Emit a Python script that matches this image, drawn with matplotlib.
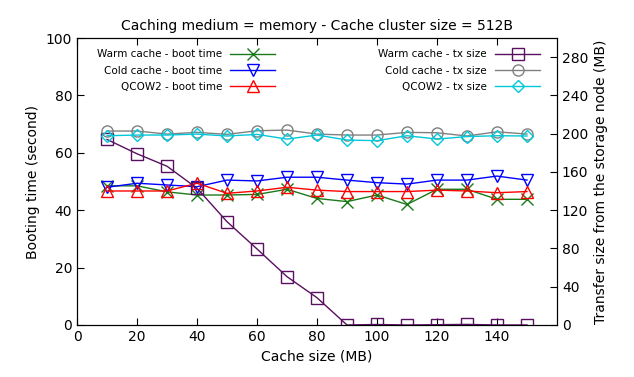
import matplotlib
matplotlib.use("Agg")
import matplotlib.pyplot as plt

cache_size = [10, 20, 30, 40, 50, 60, 70, 80, 90, 100, 110, 120, 130, 140, 150]

# boot time (seconds), left axis
warm_boot = [48.5, 48.5, 46.4, 45.3, 45.3, 45.5, 47.3, 44.1, 43.0, 45.3, 42.0, 47.3, 47.3, 43.8, 43.8]
cold_boot = [48.0, 49.4, 48.8, 48.2, 50.5, 50.2, 51.5, 51.5, 50.5, 49.6, 49.1, 50.5, 50.5, 51.9, 50.5]
qcow2_boot = [46.7, 46.7, 46.7, 49.4, 45.9, 46.7, 48.0, 47.0, 46.5, 46.5, 46.5, 47.0, 46.7, 46.1, 46.5]

# transfer size (MB), right axis
warm_tx = [194, 179, 166, 143, 108, 79.5, 50.5, 28.5, 0, 0.5, 0, 0.3, 0.6, 0, 0]
cold_tx = [202.8, 202.8, 199.6, 201.4, 199.3, 203.1, 203.8, 199.6, 198.6, 198.6, 201.4, 201.0, 197.6, 202.0, 199.6]
qcow2_tx = [197.9, 198.6, 198.6, 199.6, 197.6, 199.3, 194.4, 198.6, 193.4, 192.7, 197.9, 194.4, 197.0, 197.9, 197.6]

fig = plt.figure(figsize=(6.34, 3.77), dpi=100)
ax = fig.add_axes([0.1215, 0.138, 0.757, 0.761])
ax2 = ax.twinx()

kw = dict(markerfacecolor="none", markersize=8, linewidth=1, markeredgewidth=1)

l1, = ax.plot(cache_size, warm_boot, color="#1a7a1a", marker="x", label="Warm cache - boot time", **kw)
l2, = ax.plot(cache_size, cold_boot, color="#0000ff", marker="v", label="Cold cache - boot time", **kw)
l3, = ax.plot(cache_size, qcow2_boot, color="#ff0000", marker="^", label="QCOW2 - boot time", **kw)

r1, = ax2.plot(cache_size, warm_tx, color="#5a1060", marker="s", label="Warm cache - tx size", **kw)
r2, = ax2.plot(cache_size, cold_tx, color="#808080", marker="o", label="Cold cache - tx size", **kw)
r3, = ax2.plot(cache_size, qcow2_tx, color="#00c8d8", marker="D", label="QCOW2 - tx size",
               markerfacecolor="none", markersize=6.5, linewidth=1, markeredgewidth=1)

ax.set_xlim(0, 160)
ax.set_ylim(0, 100)
ax2.set_ylim(0, 300)
ax.set_xticks(range(0, 141, 20))
ax.set_yticks(range(0, 101, 20))
ax2.set_yticks(range(0, 281, 40))

ax.tick_params(axis="x", direction="in", top=True, labelsize=10, length=5)
ax.tick_params(axis="y", direction="in", labelsize=10, length=5)
ax2.tick_params(axis="y", direction="in", labelsize=10, length=5)

ax.set_xlabel("Cache size (MB)", fontsize=10)
ax.set_ylabel("Booting time (second)", fontsize=10)
ax2.set_ylabel("Transfer size from the storage node (MB)", fontsize=10)
ax.set_title("Caching medium = memory - Cache cluster size = 512B", fontsize=10)

leg_kw = dict(loc="upper right", frameon=False, fontsize=7.5, markerfirst=False,
              handlelength=4.3, handletextpad=0.8, labelspacing=0.6,
              borderaxespad=0, borderpad=0)
leg1 = ax.legend(handles=[l1, l2, l3], bbox_to_anchor=(0.4125, 0.961), **leg_kw)
leg1._legend_box.align = "right"
leg2 = ax2.legend(handles=[r1, r2, r3], bbox_to_anchor=(0.965, 0.961), **leg_kw)
leg2._legend_box.align = "right"

fig.savefig("out.png", dpi=100)
